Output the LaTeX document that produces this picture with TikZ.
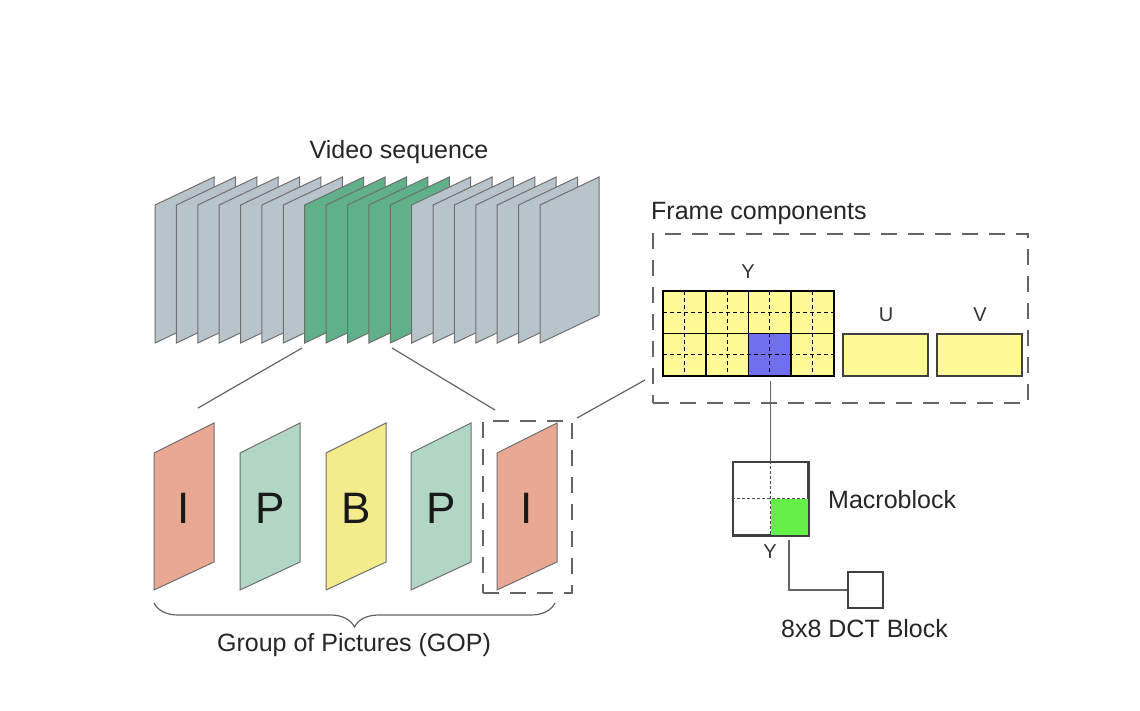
\documentclass[tikz,border=0pt]{standalone}
\usepackage{fontspec}
\setmainfont{Liberation Sans}
\usetikzlibrary{decorations.pathreplacing}
\definecolor{seqgray}{RGB}{184,196,204}
\definecolor{seqgreen}{RGB}{96,176,138}
\definecolor{icol}{RGB}{232,168,148}
\definecolor{pcol}{RGB}{178,214,196}
\definecolor{bcol}{RGB}{244,236,140}
\definecolor{ycol}{RGB}{255,250,150}
\definecolor{bluec}{RGB}{112,112,238}
\definecolor{greenc}{RGB}{100,240,70}
\definecolor{edgec}{RGB}{110,110,110}
\definecolor{linec}{RGB}{100,100,100}
\begin{document}
\begin{tikzpicture}[x=1pt,y=-1pt,
  lbl/.style={font=\fontsize{25}{30}\selectfont, text=black!85, inner sep=0pt},
  smalllbl/.style={font=\fontsize{20}{24}\selectfont, text=black!80, inner sep=0pt},
  bigletter/.style={font=\fontsize{44}{50}\selectfont, text=black!90, inner sep=0pt},
  seqframe/.style={draw=edgec, line width=1pt},
  conn/.style={draw=linec, line width=1.2pt},
  dashbox/.style={draw=linec, line width=2pt, dash pattern=on 16pt off 11pt, inner sep=0pt},
  plainbox/.style={draw=black!75, line width=1.5pt, inner sep=0pt},
]
\useasboundingbox (0,0) rectangle (1140,710);
\fill[white] (0,0) rectangle (1140,710);

% ---------- video sequence ----------
\foreach \i in {0,...,18} {
  \pgfmathsetmacro{\L}{155+21.39*\i}
  \ifnum\i<7 \def\fc{seqgray}\else\ifnum\i<12 \def\fc{seqgreen}\else\def\fc{seqgray}\fi\fi
  \filldraw[seqframe, fill=\fc] (\L,205) -- (\L+59,177) -- (\L+59,315) -- (\L,343) -- cycle;
}
\node[lbl] (vs) at (399,152) {Video sequence};

\coordinate (s1) at (302,348);
\coordinate (s2) at (392,348);
\coordinate (g1) at (198,408);
\coordinate (g2) at (495,410);
\draw[conn] (s1) -- (g1);
\draw[conn] (s2) -- (g2);

% ---------- GOP ----------
\foreach \L/\c/\t/\n in {154/icol/I/f1, 240/pcol/P/f2, 326/bcol/B/f3, 411/pcol/P/f4, 497/icol/I/f5} {
  \filldraw[seqframe, fill=\c] (\L,453) -- (\L+60,423) -- (\L+60,562) -- (\L,590) -- cycle;
  \node[bigletter] (\n) at (\L+30,508) {\t};
}
\node[dashbox, minimum width=89pt, minimum height=172pt] (sel) at (527.5,507) {};
\draw[decorate, decoration={brace, mirror, amplitude=24pt}, draw=linec, line width=1.2pt]
  (154,603) -- (555,603);
\node[lbl] (gop) at (354,645) {Group of Pictures (GOP)};

% ---------- frame components ----------
\node[lbl, anchor=west] (fclbl) at (651,213) {Frame components};
\node[dashbox, minimum width=375pt, minimum height=169pt] (fc) at (840.5,318.5) {};
\coordinate (selc) at (577,418);
\coordinate (fcc) at (645,380);
\draw[conn] (selc) -- (fcc);

% Y plane
\fill[ycol] (663,291) rectangle (834,376);
\fill[bluec] (748.5,333.5) rectangle (791.25,376);
\foreach \k in {0,...,3} {
  \draw[black, line width=1pt, dash pattern=on 4pt off 3pt] (663+42.75*\k+21.375,291) -- ++(0,85);
}
\draw[black, line width=1pt, dash pattern=on 4pt off 3pt] (663,312.25) -- (834,312.25);
\draw[black, line width=1pt, dash pattern=on 4pt off 3pt] (663,354.75) -- (834,354.75);
\draw[black, line width=1.8pt] (663,291) rectangle (834,376);
\foreach \k in {1,2,3} {
  \draw[black, line width=1.8pt] (663+42.75*\k,291) -- ++(0,85);
}
\draw[black, line width=1.8pt] (663,333.5) -- (834,333.5);
\node[smalllbl] (ylbl) at (748,272) {Y};

\node[plainbox, fill=ycol, minimum width=85pt, minimum height=42pt] (ublk) at (885.5,355) {};
\node[plainbox, fill=ycol, minimum width=85pt, minimum height=42pt] (vblk) at (979.5,355) {};
\node[smalllbl] (ulbl) at (886,315) {U};
\node[smalllbl] (vlbl) at (980,315) {V};

% ---------- macroblock ----------
\node[plainbox, minimum width=75pt, minimum height=73pt] (mb) at (770.5,498.5) {};
\fill[greenc] (770.5,498.5) rectangle (808,535);
\draw[black!70, line width=0.8pt, dash pattern=on 3pt off 2pt] (mb.north) -- (mb.south);
\draw[black!70, line width=0.8pt, dash pattern=on 3pt off 2pt] (mb.west) -- (mb.east);
\draw[plainbox] (mb.north west) rectangle (mb.south east);
\coordinate (mbtop) at (770.5,381);
\draw[conn] (mbtop) -- (mb.north);
\node[lbl, anchor=west] (mblbl) at (828,500) {Macroblock};
\node[smalllbl] (mby) at (770,552) {Y};

% ---------- DCT block ----------
\node[plainbox, minimum width=35pt, minimum height=36pt] (dct) at (865.5,590) {};
\coordinate (mbout) at (789,540);
\draw[conn] (mbout) |- (dct.west);
\node[lbl, anchor=west] (dctlbl) at (781,629) {8x8 DCT Block};
\end{tikzpicture}
\end{document}
